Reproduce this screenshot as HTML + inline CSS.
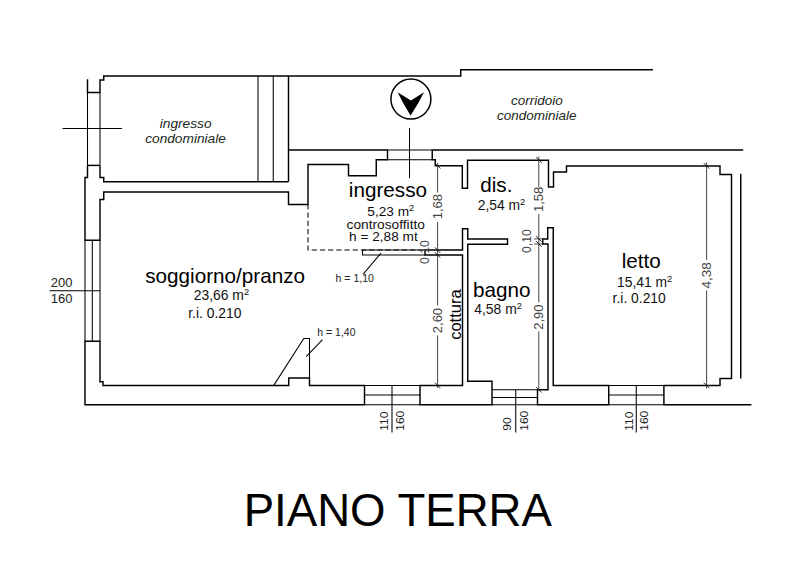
<!DOCTYPE html>
<html>
<head>
<meta charset="utf-8">
<title>Piano Terra</title>
<style>
html,body{margin:0;padding:0;background:#fff;}
body{width:800px;height:565px;overflow:hidden;font-family:"Liberation Sans",sans-serif;}
svg{display:block;}
text{font-family:"Liberation Sans",sans-serif;}
.w{fill:none;stroke:#000;stroke-width:1.45;stroke-linejoin:miter;stroke-linecap:butt;}
.t{fill:none;stroke:#000;stroke-width:1.05;}
.d{fill:none;stroke:#222;stroke-width:0.85;}
.room{font-size:20px;fill:#000;}
.sub{font-size:13.5px;fill:#111;}
.dim{font-size:13px;fill:#444;}
.lab{font-size:11.6px;fill:#222;}
.it{font-size:13.5px;font-style:italic;fill:#202820;}
.sm{font-size:10px;fill:#222;}
</style>
</head>
<body>
<svg width="800" height="565" viewBox="0 0 800 565">
<rect width="800" height="565" fill="#fff"/>

<g transform="translate(0,0.4)">
<!-- thick walls -->
<g class="w">
<!-- top-left pillar + top wall -->
<path d="M87.5,78.75 V92 H100 V79.5 H103.75 V75.5 H460.75 V69.3 H653"/>
<!-- left mid pillar + wall between ingresso condominiale and soggiorno -->
<path d="M87.5,165 H100"/>
<path d="M100,165 V177 H103.75 V181.25 H288.5"/>
<path d="M288.5,75.5 V181.25"/>
<path d="M87.5,165 V177 H85 V239.8 H100 V199.2 H103.75 V191.5 H288.5 V204 H308 V164 H348.5 V175.25 H376.25 V159.25 H387.5 V149.5 H288.5"/>
<!-- corridor bottom wall / room tops -->
<path d="M743.2,149.5 H432.25 V159.25 H435.25 V165.25 H462.3 V187.75 H467.5 V159.75 H548.5 V186.5 H553.5 V171.5 H566.5 V165.5 H720 V174 H731.5 V378 H720 V385 H663.9 V404.4 H751.4"/>
<path d="M740.75,173.4 V378"/>
<!-- bottom-left wall -->
<path d="M85,340.75 H100 V381.25 H103 V385 H288.75 V377.5 H309.5 V385 H364.5 V404.4 H85 Z"/>
<!-- ingresso bottom wall + cottura/bagno wall + bottom -->
<path d="M425,249.7 H462.5 V228.3 H467.75 V238.5 H507.5 V243.75 H467.75 V380.75 H492 V404.4 H420 V385 H462.5 V254.5 H425 Z"/>
<!-- bagno / letto wall -->
<path d="M547.7,227.25 H553.25 V385 H608.75 V404.4 H537.5 V389.25 H548 V243.5 H542.75 V238.5 H547.7 Z"/>
</g>

<!-- thin lines -->
<g class="t">
<!-- top-left window -->
<path d="M87.5,92 V165 M100,92 V165 M62.5,128 H122"/>
<!-- stairs/doors in ingresso condominiale -->
<path d="M258,75.5 V181.25 M273.25,75.5 V181.25"/>
<!-- entrance threshold -->
<path d="M387.5,149.5 H432.25 M387.5,159.25 H432.25"/>
<!-- arrow stem -->
<path d="M409.5,127.5 V177.7"/>
<!-- left window -->
<path d="M85,239.8 V340.75 M92.3,239.8 V340.75 M100,239.8 V340.75 M49.5,290.3 H100.5"/>
<!-- triangle h=1,40 -->
<path d="M273.75,385 L303.75,338 H309.5 V377.5"/>
<path d="M306.25,356.25 L322.5,339.25"/>
<!-- h=1,10 rect + leader -->
<path d="M425,249.7 H362.5 V254.7 H425"/>
<path d="M381,252.6 L363,274"/>
<!-- window 1 -->
<path d="M364.5,385 H420 M364.5,394.5 H420 M364.5,404.4 H420 M392,385 V432"/>
<!-- window 2 -->
<path d="M492,389.25 H537.5 M492,397 H537.5 M492,404.4 H537.5 M515.75,389.25 V432"/>
<!-- window 3 -->
<path d="M608.75,385 H663.9 M608.75,394.5 H663.9 M608.75,404.4 H663.9 M636.25,385 V432"/>
</g>
<!-- dashed controsoffitto -->
<path d="M308,204 V249.5 H421.5" fill="none" stroke="#000" stroke-width="1.05" stroke-dasharray="5.2,3"/>

<!-- dimension lines -->
<g class="d">
<path d="M437.6,162.5 V192 M437.6,221.5 V305 M437.6,335 V387.5"/>
<path d="M538.8,156 V187 M538.8,213.5 V302 M538.8,331 V389.5"/>
<path d="M706.6,162 V259.5 M706.6,290 V388"/>
</g>
<g fill="none" stroke="#111" stroke-width="0.9">
<!-- ticks -->
<path d="M434.8,162.5 l5.6,5.6 M434.8,246.9 l5.6,5.6 M434.8,251.7 l5.6,5.6 M434.8,382.2 l5.6,5.6"/>
<path d="M536,156.7 l5.6,5.6 M536,235.7 l5.6,5.6 M536,240.7 l5.6,5.6 M536,386.5 l5.6,5.6"/>
<path d="M703.8,162.7 l5.6,5.6 M703.8,382.2 l5.6,5.6"/>
<path d="M534,238.5 H543 M534,243.6 H543" stroke-width="0.7"/>
</g>

<!-- arrow symbol -->
<circle cx="410.9" cy="98.7" r="20" fill="none" stroke="#000" stroke-width="1.5"/>
<path d="M397.6,91.8 L410.9,100.2 L424,91.8 Q418.5,103 410.6,115.2 Q403,103 397.6,91.8 Z" fill="#000"/>

</g>

<!-- room names -->
<text class="room" style="font-size:20px" transform="translate(145.2,282.5) scale(1.035,1)">soggiorno/pranzo</text>
<text class="sub" style="font-size:13.8px" transform="translate(193.8,300.4) scale(1.005,1)">23,66 m<tspan style="font-size:9.2px" dy="-5.1">2</tspan></text>
<text class="sub" style="font-size:13.8px" transform="translate(188.2,318.2) scale(1.005,1)">r.i. 0.210</text>
<text class="room" style="font-size:20px" transform="translate(348.8,197) scale(1.035,1)">ingresso</text>
<text class="sub" style="font-size:13.6px" transform="translate(367.3,216.4) scale(1.005,1)">5,23 m<tspan style="font-size:9.2px" dy="-5.1">2</tspan></text>
<text class="sub" style="font-size:13.6px" transform="translate(346.6,229.4) scale(1.01,1)">controsoffitto</text>
<text class="sub" style="font-size:13.6px" transform="translate(349.0,241.4) scale(1.005,1)">h = 2,88 mt</text>
<text class="room" style="font-size:20px" transform="translate(480.2,192) scale(1.035,1)">dis.</text>
<text class="sub" style="font-size:13.8px" transform="translate(477.7,209.6) scale(1.005,1)">2,54 m<tspan style="font-size:9.2px" dy="-5.1">2</tspan></text>
<text class="room" style="font-size:20px" transform="translate(473,297) scale(1.035,1)">bagno</text>
<text class="sub" style="font-size:13.8px" transform="translate(474.3,314) scale(1.005,1)">4,58 m<tspan style="font-size:9.2px" dy="-5.1">2</tspan></text>
<text class="room" style="font-size:20px" transform="translate(621.7,268) scale(1.035,1)">letto</text>
<text class="sub" style="font-size:13.8px" transform="translate(617.0,286.6) scale(1.005,1)">15,41 m<tspan style="font-size:9.2px" dy="-5.1">2</tspan></text>
<text class="sub" style="font-size:13.8px" transform="translate(612.6,303.2) scale(1.005,1)">r.i. 0.210</text>
<text class="room" style="font-size:16px" transform="translate(461,339.8) rotate(-90) scale(1.03,1)">cottura</text>

<!-- italics -->
<text class="it" style="font-size:13.7px" x="159.8" y="128.1">ingresso</text>
<text class="it" style="font-size:13.7px" x="145.2" y="143.2">condominiale</text>
<text class="it" x="511" y="104.7">corridoio</text>
<text class="it" x="497" y="120.2">condominiale</text>

<!-- small h labels -->
<text class="sm" style="font-size:10.5px" x="335.6" y="281.9">h = 1,10</text>
<text class="sm" style="font-size:10.5px" x="317.3" y="336.4">h = 1,40</text>

<!-- dimension texts -->
<text class="dim" transform="translate(441.7,219.3) rotate(-90)">1,68</text>
<text class="dim" style="font-size:13.6px" transform="translate(428.8,264) rotate(-90) scale(0.9,1)">0,10</text>
<text class="dim" transform="translate(441.7,333.2) rotate(-90)">2,60</text>
<text class="dim" transform="translate(542.9,212) rotate(-90)">1,58</text>
<text class="dim" style="font-size:13.6px" transform="translate(530.9,253) rotate(-90) scale(0.9,1)">0,10</text>
<text class="dim" transform="translate(542.9,329.8) rotate(-90)">2,90</text>
<text class="dim" style="font-size:13.5px" transform="translate(711.1,288.5) rotate(-90)">4,38</text>

<!-- window labels -->
<text class="lab" style="font-size:13px" x="50.7" y="286.8">200</text>
<text class="lab" style="font-size:13px" x="50.7" y="302.8">160</text>
<text class="lab" transform="translate(388.2,430.8) rotate(-90) scale(1.04,1)">110</text>
<text class="lab" transform="translate(403.9,430.8) rotate(-90) scale(1.04,1)">160</text>
<text class="lab" transform="translate(510.8,430.8) rotate(-90) scale(1.04,1)">90</text>
<text class="lab" transform="translate(527.5,430.8) rotate(-90) scale(1.04,1)">160</text>
<text class="lab" transform="translate(632.5,430.8) rotate(-90) scale(1.04,1)">110</text>
<text class="lab" transform="translate(648.2,430.8) rotate(-90) scale(1.04,1)">160</text>

<!-- title -->
<text x="243.7" y="525.6" style="font-size:45.6px" fill="#000">PIANO TERRA</text>
</svg>
</body>
</html>
